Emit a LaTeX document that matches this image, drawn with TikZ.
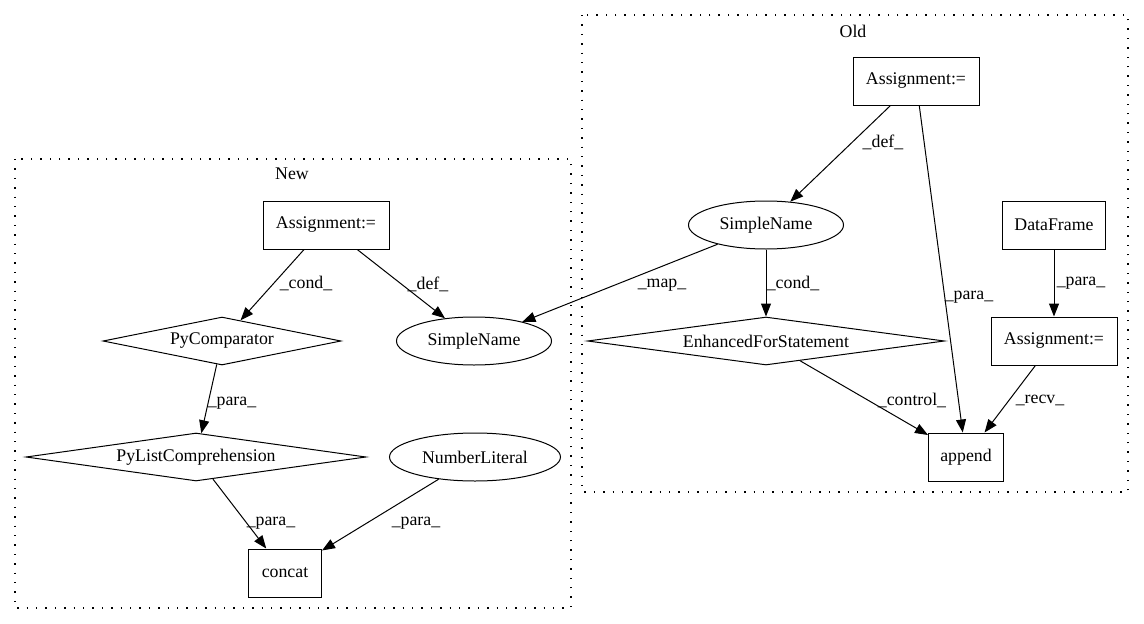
\documentclass[tikz,border=0pt]{standalone}
\usepackage{fontspec}
\setmainfont{Liberation Serif}
\usetikzlibrary{shapes.geometric,arrows.meta}
\begin{document}
\begin{tikzpicture}[x=1pt,y=-1pt,
  every node/.style={font=\fontsize{17.8}{20}\selectfont, inner sep=0pt},
  boxnode/.style={draw, line width=1pt, rectangle, minimum height=48pt},
  ellnode/.style={draw, line width=1pt, ellipse, minimum height=48pt},
  dianode/.style={draw, line width=1pt, diamond, minimum height=48pt},
  edge/.style={draw, line width=1pt, -{Triangle[length=13pt,width=10pt]}},
  lbl/.style={},
  cluster/.style={draw, line width=1.4pt, dash pattern=on 1.4pt off 8pt}]
\useasboundingbox (0,0) rectangle (1144,624);
% clusters
\draw[cluster] (582,15) rectangle (1128,492);
\node (oldlbl) at (853,31) {Old};
\draw[cluster] (15,159) rectangle (571,608);
\node (newlbl) at (292,174) {New};
% old nodes
\node[boxnode, minimum width=126pt] (oa) at (916,81) {Assignment:=};
\node[ellnode, minimum width=155pt] (osn) at (766,225) {SimpleName};
\node[boxnode, minimum width=103pt] (df) at (1054,225) {DataFrame};
\node[dianode, minimum width=357pt, aspect=7.6] (efs) at (766,341) {EnhancedForStatement};
\node[boxnode, minimum width=126pt] (oa2) at (1054,341) {Assignment:=};
\node[boxnode, minimum width=75pt] (app) at (966,457) {append};
% new nodes
\node[boxnode, minimum width=126pt] (na) at (326,225) {Assignment:=};
\node[dianode, minimum width=238pt, aspect=5] (pyc) at (222,341) {PyComparator};
\node[ellnode, minimum width=155pt] (nsn) at (474,341) {SimpleName};
\node[dianode, minimum width=340pt, aspect=7] (plc) at (196,457) {PyListComprehension};
\node[ellnode, minimum width=171pt] (nl) at (475,457) {NumberLiteral};
\node[boxnode, minimum width=73pt] (cc) at (285,573) {concat};
% edges
\draw[edge] (oa) -- (osn);
\node[lbl] (l1) at (883,142) {\_def\_};
\draw[edge] (oa) -- (app);
\node[lbl] (l2) at (969,297) {\_para\_};
\draw[edge] (osn) -- (efs);
\node[lbl] (l3) at (793,283) {\_cond\_};
\draw[edge] (osn) -- (nsn);
\node[lbl] (l4) at (662,285) {\_map\_};
\draw[edge] (df) -- (oa2);
\node[lbl] (l5) at (1081,283) {\_para\_};
\draw[edge] (efs) -- (app);
\node[lbl] (l6) at (912,400) {\_control\_};
\draw[edge] (oa2) -- (app);
\node[lbl] (l7) at (1040,400) {\_recv\_};
\draw[edge] (na) -- (pyc);
\node[lbl] (l8) at (306,283) {\_cond\_};
\draw[edge] (na) -- (nsn);
\node[lbl] (l9) at (428,284) {\_def\_};
\draw[edge] (pyc) -- (plc);
\node[lbl] (l10) at (232,403) {\_para\_};
\draw[edge] (plc) -- (cc);
\node[lbl] (l11) at (271,523) {\_para\_};
\draw[edge] (nl) -- (cc);
\node[lbl] (l12) at (416,523) {\_para\_};
\end{tikzpicture}
\end{document}
